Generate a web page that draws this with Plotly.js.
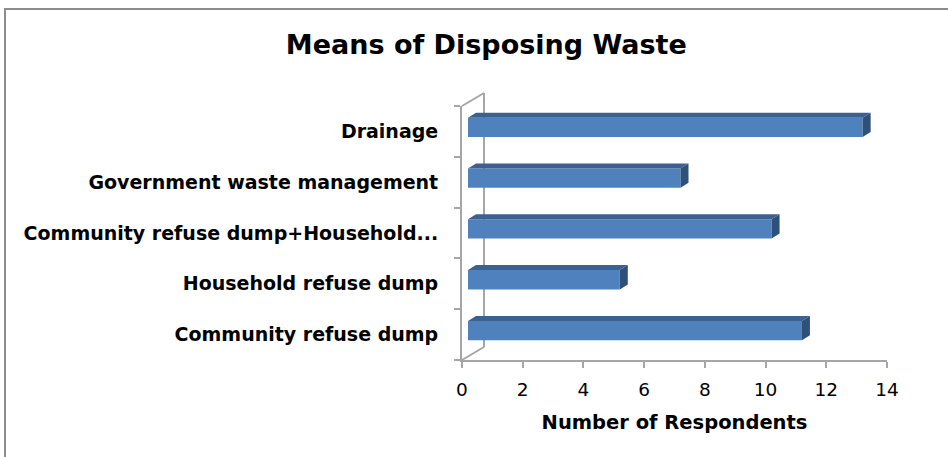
<!DOCTYPE html>
<html>
<head>
<meta charset="utf-8">
<script src="https://cdn.plot.ly/plotly-3.0.1.min.js"></script>
<style>
html,body{margin:0;padding:0;background:#fff;}
#wrap{position:relative;width:948px;height:457px;overflow:hidden;}
#frame{position:absolute;left:4px;top:8px;width:1000px;height:500px;border:2px solid #8c8c8c;box-sizing:border-box;pointer-events:none;z-index:5;}
#chart{position:absolute;left:0;top:0;width:948px;height:457px;}
</style>
</head>
<body>
<div id="wrap"><div id="chart"></div><div id="frame"></div></div>
<script>
// Data (bottom to top, as drawn)
var categories = ["Community refuse dump", "Household refuse dump", "Community refuse dump+Household...", "Government waste management", "Drainage"];
var respondents = [11, 5, 10, 7, 13];
var xTickValues = [0, 2, 4, 6, 8, 10, 12, 14];

// Layout geometry
var W = 948, H = 457;
var mL = 462, mR = 61, mT = 106, mB = 97;
var plotW = W - mL - mR, plotH = H - mT - mB;
var xMax = 14;
var pxPerX = plotW / xMax;
var pxPerY = plotH / categories.length;

var barBase = 6 / pxPerX;        // depth shift of bar front face
var barWidth = 0.38;
var barOffset = -0.11;
var depthX = 8 / pxPerX;
var depthY = 5 / pxPerY;

var shapes = [];
// 3D wall lines (paper coords)
var wx = 22 / plotW, wy = 13 / plotH;
var wallLine = {color: '#a6a6a6', width: 2};
shapes.push({type:'line', xref:'paper', yref:'paper', x0:0, y0:1, x1:wx, y1:1+wy, line:wallLine, layer:'below'});
shapes.push({type:'line', xref:'paper', yref:'paper', x0:wx, y0:1+wy, x1:wx, y1:wy, line:wallLine, layer:'below'});
shapes.push({type:'line', xref:'paper', yref:'paper', x0:0, y0:0, x1:wx, y1:wy, line:wallLine, layer:'below'});

// Top and side faces derived from data
for (var i = 0; i < categories.length; i++) {
  var v = respondents[i];
  var yb = i + barOffset, yt = yb + barWidth;
  var x0 = barBase, x1 = barBase + v;
  shapes.push({type:'path', xref:'x', yref:'y2',
    path:'M'+x0+','+yt+' L'+x1+','+yt+' L'+(x1+depthX)+','+(yt+depthY)+' L'+(x0+depthX)+','+(yt+depthY)+' Z',
    fillcolor:'#3c6191', line:{width:0}, layer:'above'});
  shapes.push({type:'path', xref:'x', yref:'y2',
    path:'M'+x1+','+yb+' L'+x1+','+yt+' L'+(x1+depthX)+','+(yt+depthY)+' L'+(x1+depthX)+','+(yb+depthY)+' Z',
    fillcolor:'#2f5079', line:{width:0}, layer:'above'});
}

var trace = {
  type:'bar', orientation:'h',
  y: categories, x: respondents,
  base: barBase, width: barWidth, offset: barOffset,
  marker:{color:'#4f81bd', line:{width:0}},
  hoverinfo:'x+y'
};

var layout = {
  width: W, height: H,
  margin:{l:mL, r:mR, t:mT, b:mB, pad:0},
  paper_bgcolor:'#fff', plot_bgcolor:'rgba(0,0,0,0)',
  showlegend:false,
  font:{family:'DejaVu Sans', color:'#000'},
  title:{text:'<b>Means of Disposing Waste</b>', font:{family:'DejaVu Sans', size:27, color:'#000'},
    xref:'container', x:0.513, xanchor:'center', yref:'container', y:1-45/H, yanchor:'middle'},
  xaxis:{range:[0, xMax], tickvals:xTickValues, ticks:'outside', ticklen:6, tickwidth:2, tickcolor:'#a6a6a6',
    showline:true, linecolor:'#a6a6a6', linewidth:2, showgrid:false, zeroline:false,
    tickfont:{family:'DejaVu Sans', size:18.5, color:'#000'}, ticklabelstandoff:6,
    title:{text:'<b>Number of Respondents</b>', font:{family:'DejaVu Sans', size:19.5, color:'#000'}, standoff:16},
    fixedrange:true},
  yaxis:{type:'category', categoryorder:'array', categoryarray:categories, range:[-0.5, categories.length-0.5],
    tickson:'boundaries', ticks:'outside', ticklen:6, tickwidth:2, tickcolor:'#a6a6a6',
    showline:true, linecolor:'#a6a6a6', linewidth:2, showgrid:false, zeroline:false,
    tickfont:{family:'DejaVu Sans', size:19, color:'#000', weight:'bold'}, ticklabelstandoff:18,
    fixedrange:true},
  yaxis2:{overlaying:'y', range:[-0.5, categories.length-0.5], visible:false, fixedrange:true},
  shapes: shapes
};

Plotly.newPlot('chart', [trace], layout, {displayModeBar:false, staticPlot:true});
</script>
</body>
</html>
